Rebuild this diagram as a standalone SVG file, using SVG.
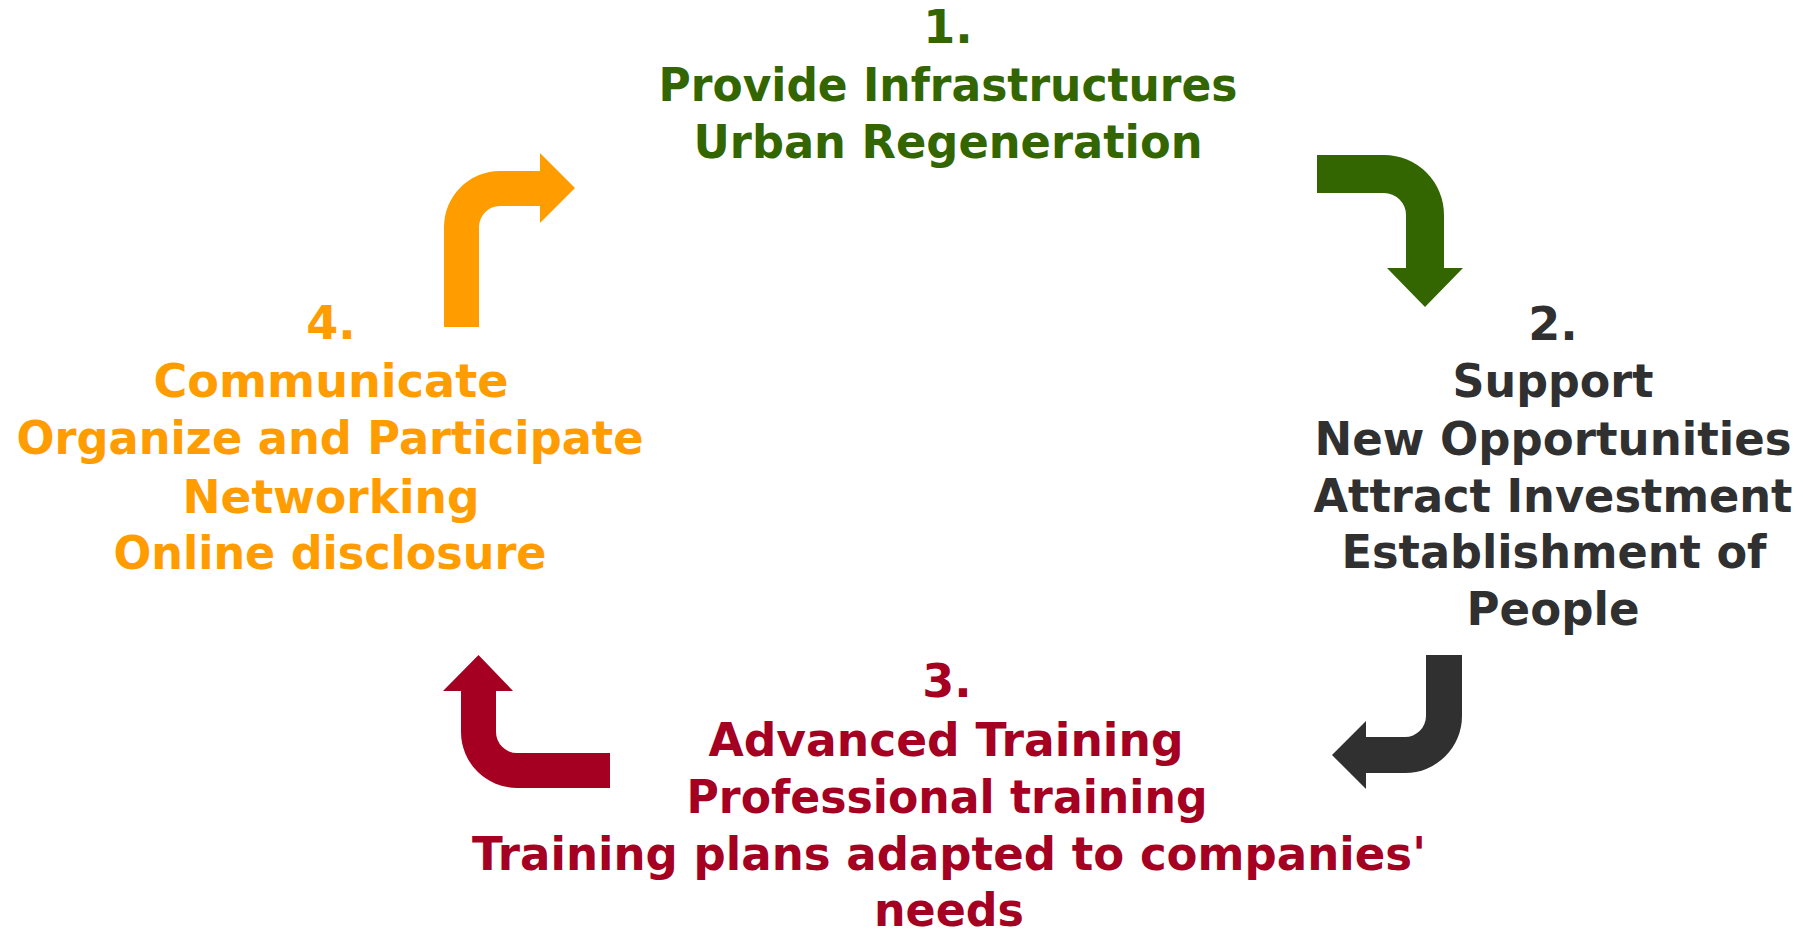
<svg xmlns="http://www.w3.org/2000/svg" width="1803" height="932" viewBox="0 0 1803 932">
<style>
text{font-family:"DejaVu Sans","Open Sans",sans-serif;font-weight:bold;font-size:46px;text-anchor:middle}
.g{fill:#336600}.d{fill:#303030}.r{fill:#A50021}.o{fill:#FF9C00}
</style>
<rect width="1803" height="932" fill="#fff"/>
<g id="connectors">
<path class="g" d="M1317,155 L1384,155 A60,60 0 0 1 1444,215 L1444,268 L1463,268 L1425,307 L1387,268 L1406,268 L1406,215 A22,22 0 0 0 1384,193 L1317,193 Z"/>
<path class="d" d="M1462,655 L1462,716 A57,57 0 0 1 1405,773 L1366,773 L1366,789 L1332,755 L1366,721 L1366,737 L1405,737 A21,21 0 0 0 1426,716 L1426,655 Z"/>
<path class="r" d="M610,753 L517,753 A21,21 0 0 1 496,732 L496,691 L513,691 L478.5,655 L443,691 L461,691 L461,732 A56,56 0 0 0 517,788 L610,788 Z"/>
<path class="o" d="M444,327 L444,227 A56,56 0 0 1 500,171 L540,171 L540,153 L575,188 L540,223 L540,206 L500,206 A21,21 0 0 0 479,227 L479,327 Z"/>
</g>
<g id="node1" class="g">
<text x="948" y="43">1.</text>
<text x="948" y="101" textLength="579" lengthAdjust="spacingAndGlyphs">Provide Infrastructures</text>
<text x="948" y="158" textLength="509" lengthAdjust="spacingAndGlyphs">Urban Regeneration</text>
</g>
<g id="node2" class="d">
<text x="1553" y="340">2.</text>
<text x="1553" y="397" textLength="201" lengthAdjust="spacingAndGlyphs">Support</text>
<text x="1553" y="455" textLength="477" lengthAdjust="spacingAndGlyphs">New Opportunities</text>
<text x="1553" y="512" textLength="479" lengthAdjust="spacingAndGlyphs">Attract Investment</text>
<text x="1554" y="568" textLength="425" lengthAdjust="spacingAndGlyphs">Establishment of</text>
<text x="1553" y="625" textLength="173" lengthAdjust="spacingAndGlyphs">People</text>
</g>
<g id="node3" class="r">
<text x="947" y="697">3.</text>
<text x="946" y="756" textLength="475" lengthAdjust="spacingAndGlyphs">Advanced Training</text>
<text x="947" y="813" textLength="521" lengthAdjust="spacingAndGlyphs">Professional training</text>
<text x="949" y="870" textLength="954" lengthAdjust="spacingAndGlyphs">Training plans adapted to companies'</text>
<text x="949" y="926" textLength="150" lengthAdjust="spacingAndGlyphs">needs</text>
</g>
<g id="node4" class="o">
<text x="331" y="339">4.</text>
<text x="331" y="397" textLength="355" lengthAdjust="spacingAndGlyphs">Communicate</text>
<text x="330" y="454" textLength="627" lengthAdjust="spacingAndGlyphs">Organize and Participate</text>
<text x="331" y="513" textLength="297" lengthAdjust="spacingAndGlyphs">Networking</text>
<text x="330" y="569" textLength="433" lengthAdjust="spacingAndGlyphs">Online disclosure</text>
</g>
</svg>
